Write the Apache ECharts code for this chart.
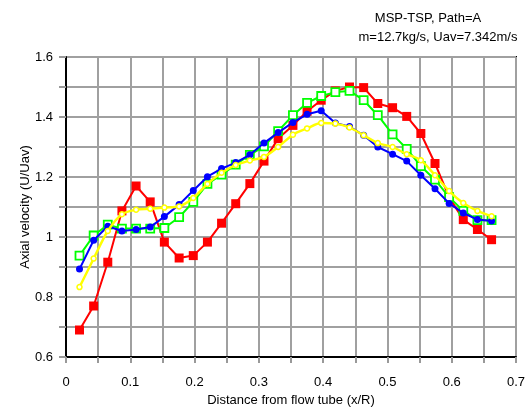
<!DOCTYPE html>
<html>
<head>
<meta charset="utf-8">
<script src="https://cdn.jsdelivr.net/npm/echarts@6/dist/echarts.min.js"></script>
<style>
  html, body { margin: 0; padding: 0; background: #fff; }
  #chart { width: 529px; height: 412px; }
</style>
</head>
<body>
<div id="chart"></div>
<script>
// Radial positions of the measuring points (x/R)
const positions = [0.021, 0.043, 0.065, 0.087, 0.109, 0.131, 0.153, 0.176, 0.198, 0.220,
                   0.242, 0.264, 0.286, 0.308, 0.330, 0.353, 0.375, 0.397, 0.419, 0.441,
                   0.463, 0.485, 0.508, 0.530, 0.552, 0.574, 0.596, 0.618, 0.640, 0.662];

// Normalised axial velocity U/Uav for each traverse
const redSeries = [0.690, 0.770, 0.916, 1.087, 1.170, 1.117, 0.983, 0.930, 0.938, 0.983,
                   1.046, 1.111, 1.178, 1.253, 1.328, 1.372, 1.419, 1.456, 1.487, 1.500,
                   1.498, 1.445, 1.431, 1.402, 1.345, 1.245, 1.133, 1.058, 1.025, 0.991];
const greenSeries = [0.938, 1.005, 1.041, 1.028, 1.028, 1.028, 1.030, 1.066, 1.117, 1.177,
                     1.208, 1.241, 1.274, 1.302, 1.353, 1.406, 1.447, 1.470, 1.483, 1.487,
                     1.456, 1.406, 1.342, 1.294, 1.236, 1.191, 1.133, 1.087, 1.056, 1.056];
const blueSeries = [0.893, 0.989, 1.036, 1.020, 1.025, 1.033, 1.068, 1.108, 1.155, 1.201,
                    1.228, 1.248, 1.274, 1.313, 1.348, 1.382, 1.409, 1.421, 1.380, 1.368,
                    1.339, 1.300, 1.276, 1.253, 1.206, 1.161, 1.112, 1.080, 1.058, 1.053];
const yellowSeries = [0.833, 0.928, 1.020, 1.076, 1.091, 1.094, 1.098, 1.102, 1.130, 1.177,
                      1.214, 1.240, 1.255, 1.267, 1.300, 1.341, 1.362, 1.380, 1.378, 1.365,
                      1.339, 1.313, 1.300, 1.276, 1.256, 1.206, 1.153, 1.113, 1.087, 1.069];

const titleLines = ['MSP-TSP, Path=A', 'm=12.7kg/s, Uav=7.342m/s'];
const xName = 'Distance from flow tube (x/R)';
const yName = 'Axial velocity (U/Uav)';

const FONT = 'Liberation Sans, Arial, sans-serif';

function pairs(ys) {
  return positions.map((x, i) => [x, ys[i]]);
}

const chart = echarts.init(document.getElementById('chart'), null, { renderer: 'canvas' });

const gridLine = { show: true, lineStyle: { color: '#a0a0a0', width: 2 } };

chart.setOption({
  backgroundColor: '#ffffff',
  animation: false,
  grid: {
    left: 66, right: 13, top: 57, bottom: 55,
    show: true, borderColor: '#000', borderWidth: 2, backgroundColor: 'transparent'
  },
  graphic: [
    { type: 'text', x: 428, y: 18,
      style: { text: titleLines[0], font: '13px ' + FONT, fill: '#000', textAlign: 'center', textVerticalAlign: 'middle' } },
    { type: 'text', x: 438, y: 37,
      style: { text: titleLines[1], font: '13px ' + FONT, fill: '#000', textAlign: 'center', textVerticalAlign: 'middle' } }
  ],
  xAxis: {
    type: 'value', min: 0, max: 0.7, interval: 0.05,
    name: xName, nameLocation: 'middle', nameGap: 36,
    nameTextStyle: { fontFamily: FONT, fontSize: 13, color: '#000' },
    axisLine: { show: true, onZero: false, lineStyle: { color: '#000', width: 2 } },
    axisTick: { show: true, inside: false, length: 6, lineStyle: { color: '#999', width: 2 } },
    axisLabel: {
      margin: 19, fontFamily: FONT, fontSize: 13, color: '#000',
      formatter: v => (Math.round(v * 100) % 10 === 0 ? String(Math.round(v * 10) / 10) : '')
    },
    splitLine: gridLine
  },
  yAxis: {
    type: 'value', min: 0.6, max: 1.6, interval: 0.1,
    name: yName, nameLocation: 'middle', nameGap: 34, nameRotate: 90,
    nameMoveOverlap: false,
    nameTextStyle: { fontFamily: FONT, fontSize: 13, color: '#000' },
    axisLine: { show: true, onZero: false, lineStyle: { color: '#000', width: 2 } },
    axisTick: { show: true, inside: false, length: 7, lineStyle: { color: '#999', width: 2 } },
    axisLabel: {
      margin: 13, fontFamily: FONT, fontSize: 13, color: '#000',
      formatter: v => (Math.round(v * 10) % 2 === 0 ? String(Math.round(v * 10) / 10) : '')
    },
    splitLine: gridLine
  },
  series: [
    {
      type: 'line', name: 'red', data: pairs(redSeries),
      symbol: 'rect', symbolSize: 9,
      lineStyle: { color: '#ff0000', width: 2 },
      itemStyle: { color: '#ff0000', borderColor: '#ff0000', borderWidth: 0 },
      z: 2
    },
    {
      type: 'line', name: 'green', data: pairs(greenSeries),
      symbol: 'rect', symbolSize: 8,
      lineStyle: { color: '#00ff00', width: 2 },
      itemStyle: { color: '#ffffff', borderColor: '#00ff00', borderWidth: 1.8 },
      z: 3
    },
    {
      type: 'line', name: 'blue', data: pairs(blueSeries),
      symbol: 'circle', symbolSize: 7,
      lineStyle: { color: '#0000ff', width: 2 },
      itemStyle: { color: '#0000ff', borderColor: '#0000ff', borderWidth: 0 },
      z: 4
    },
    {
      type: 'line', name: 'yellow', data: pairs(yellowSeries),
      symbol: 'circle', symbolSize: 5, smooth: 0.3,
      lineStyle: { color: '#ffff00', width: 2.4 },
      itemStyle: { color: '#ffffff', borderColor: '#ffff00', borderWidth: 1.5 },
      z: 5
    }
  ]
});
</script>
</body>
</html>
